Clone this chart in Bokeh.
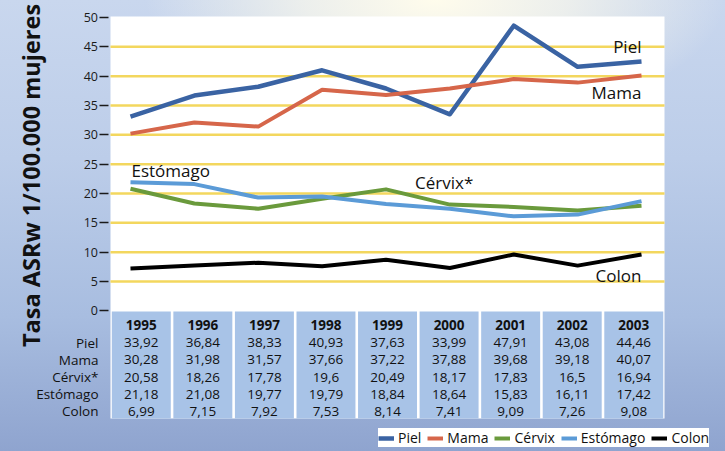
import math
from bokeh.plotting import figure
from bokeh.models import Range1d, FixedTicker, Legend, LegendItem
from bokeh.core.properties import value
from bokeh.embed import file_html
from bokeh.resources import INLINE

# ---------------- data ----------------
years = [1995, 1996, 1997, 1998, 1999, 2000, 2001, 2002, 2003]
series_names = ["Piel", "Mama", "Cérvix", "Estómago", "Colon"]
row_labels = ["Piel", "Mama", "Cérvix*", "Estómago", "Colon"]
y_ticks = [0, 5, 10, 15, 20, 25, 30, 35, 40, 45, 50]
y_title = "Tasa ASRw 1/100.000 mujeres"

# values printed in the table
piel_tab = [33.92, 36.84, 38.33, 40.93, 37.63, 33.99, 47.91, 43.08, 44.46]
mama_tab = [30.28, 31.98, 31.57, 37.66, 37.22, 37.88, 39.68, 39.18, 40.07]
cervix_tab = [20.58, 18.26, 17.78, 19.6, 20.49, 18.17, 17.83, 16.5, 16.94]
estomago_tab = [21.18, 21.08, 19.77, 19.79, 18.84, 18.64, 15.83, 16.11, 17.42]
colon_tab = [6.99, 7.15, 7.92, 7.53, 8.14, 7.41, 9.09, 7.26, 9.08]

# values of the lines as drawn in the picture
piel_line = [33.1, 36.7, 38.2, 41.0, 37.9, 33.5, 48.6, 41.6, 42.5]
mama_line = [30.2, 32.1, 31.4, 37.7, 36.8, 37.9, 39.5, 38.9, 40.1]
cervix_line = [20.8, 18.3, 17.4, 19.1, 20.7, 18.1, 17.7, 17.1, 17.9]
estomago_line = [21.9, 21.6, 19.3, 19.5, 18.2, 17.4, 16.1, 16.4, 18.7]
colon_line = [7.2, 7.7, 8.2, 7.6, 8.7, 7.3, 9.6, 7.7, 9.6]

# ---------------- style / layout ----------------
colors = ["#3a63a3", "#d6664a", "#6a9a3c", "#5b9bd7", "#000000"]
widths = [4.5, 4, 4, 4, 4]
FONT = "Open Sans"
INK = "#111111"

# chart area bounds (main axes units)
X0, X1 = 1994.687, 2003.36
Y0, Y1 = -18.36, 50.17

p = figure(width=725, height=451, output_backend="svg", toolbar_location=None,
           x_range=Range1d(1992.965, 2004.315), y_range=Range1d(-23.99, 52.90),
           x_axis_location=None, min_border=0)
# table axes units: one unit per column / per row
p.extra_x_ranges = {"tab": Range1d(1992.713, 2004.490)}
p.extra_y_ranges = {"tab": Range1d(-7.326, 18.895)}

p.styles = {"background": (
    "radial-gradient(ellipse 40% 28% at 60% 0%, rgba(255,252,236,1) 0%, rgba(248,247,236,0.75) 45%, rgba(235,238,245,0) 100%),"
    "linear-gradient(180deg, #c9d7ee 0%, #bccde9 35%, #a8bde0 70%, #8fa4cf 100%)")}
p.border_fill_alpha = 0
p.background_fill_alpha = 0
p.outline_line_color = None
p.grid.visible = False

# white chart + table area
p.quad(left=[X0], right=[X1], bottom=[Y0], top=[Y1], fill_color="white", line_color=None)

# horizontal grid rules
gt = y_ticks[1:-1]
p.segment(x0=[X0] * len(gt), x1=[X1] * len(gt), y0=gt, y1=gt, line_color="#f3d75e", line_width=2.5)

# y axis drawn at the left edge of the chart area
yax = p.yaxis[0]
yax.fixed_location = 1994.663
yax.ticker = FixedTicker(ticks=y_ticks)
yax.axis_line_color = None
yax.major_tick_in = 0
yax.major_tick_out = 9
yax.major_tick_line_color = "#1a1a1a"
yax.major_tick_line_width = 1.5
yax.minor_tick_line_color = None
yax.major_label_text_font = FONT
yax.major_label_text_font_size = "12.5px"
yax.major_label_text_color = "#1a1a1a"
yax.major_label_standoff = 2

# table columns
p.vbar(x=years, width=0.958, bottom=-5.407, top=0.814, x_range_name="tab", y_range_name="tab",
       fill_color="#a8c3e7", line_color=None)

# lines
line_data = [piel_line, mama_line, cervix_line, estomago_line, colon_line]
renderers = []
for vals, c, w in zip(line_data, colors, widths):
    renderers.append(p.line(years, vals, line_color=c, line_width=w, line_join="round"))

# line labels
lab_kw = dict(text_font=value(FONT), text_font_size="17px", text_color=INK, text_baseline="middle")
p.text(x=[years[-1]], y=[piel_line[-1]], text=[series_names[0]], text_align="right", y_offset=-15, **lab_kw)
p.text(x=[years[-1]], y=[mama_line[-1]], text=[series_names[1]], text_align="right", y_offset=17, **lab_kw)
p.text(x=[years[0]], y=[estomago_line[0]], text=[series_names[3]], text_align="left", x_offset=1, y_offset=-12, **lab_kw)
p.text(x=[years[4]], y=[cervix_line[4]], text=[row_labels[2]], text_align="left", x_offset=29, y_offset=-7, **lab_kw)
p.text(x=[years[-1]], y=[colon_line[-1]], text=[series_names[4]], text_align="right", y_offset=21, **lab_kw)

# table text
tab_kw = dict(x_range_name="tab", y_range_name="tab", text_font=value(FONT), text_font_size="13.5px",
              text_color=INK, text_baseline="middle")
p.text(x=years, y=[0] * len(years), text=[str(y) for y in years], text_font_style="bold",
       text_align="center", **tab_kw)
tab_data = [piel_tab, mama_tab, cervix_tab, estomago_tab, colon_tab]
for i, vals in enumerate(tab_data):
    p.text(x=years, y=[-(i + 1)] * len(years), text=[str(v).replace(".", ",") for v in vals],
           text_align="center", **tab_kw)
p.text(x=[1994.305] * len(row_labels), y=[-(i + 1) for i in range(len(row_labels))], text=row_labels,
       text_align="right", **tab_kw)

# y title
p.text(x=[1993.45], y=[23.07], text=[y_title], angle=math.pi / 2, text_align="center", text_baseline="middle",
       text_font=value(FONT), text_font_style="bold", text_font_size="23.5px", text_color=INK)

# legend
legend = Legend(items=[LegendItem(label=n, renderers=[r]) for n, r in zip(series_names, renderers)],
                orientation="horizontal", location=(378, 4), margin=0, padding=7,
                spacing=6, label_standoff=4, glyph_width=16, glyph_height=16, label_height=16,
                label_text_font=FONT, label_text_font_size="14px", label_text_color=INK,
                background_fill_color="white", background_fill_alpha=1, border_line_color=None)
p.add_layout(legend)

open("out.html", "w").write(file_html(p, INLINE))
